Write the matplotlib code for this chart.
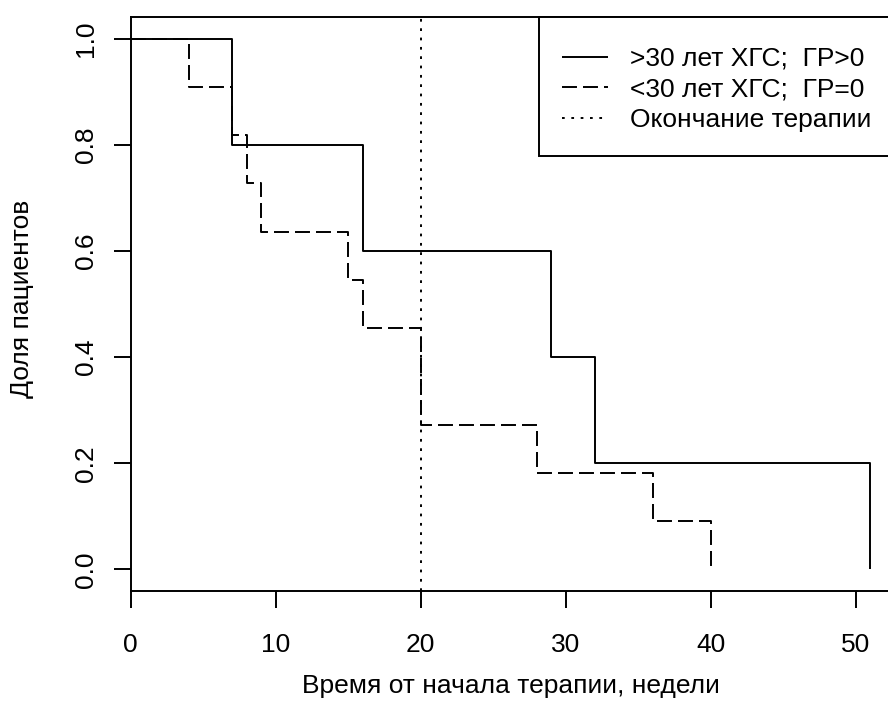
import matplotlib
matplotlib.use("Agg")
import matplotlib.pyplot as plt
from matplotlib.patches import Rectangle

# Kaplan-Meier style survival curves (weeks since start of therapy)
weeks_over30 = [0, 7, 16, 29, 32, 51]
surv_over30 = [1.0, 0.8, 0.6, 0.4, 0.2, 0.0]

weeks_under30 = [0, 4, 7, 8, 9, 15, 16, 20, 28, 36, 40]
surv_under30 = [1.0, 0.909, 0.818, 0.727, 0.636, 0.545, 0.455, 0.273, 0.182, 0.091, 0.0]

therapy_end = 20

labels = [">30 лет ХГС;  ГР>0", "<30 лет ХГС;  ГР=0", "Окончание терапии"]
x_ticks = [0, 10, 20, 30, 40, 50]
y_ticks = [0.0, 0.2, 0.4, 0.6, 0.8, 1.0]

plt.rcParams["font.family"] = ["Liberation Sans", "DejaVu Sans"]
FS = 19
LW = 1.4

W, H = 888, 726
fig = plt.figure(figsize=(W / 100, H / 100), dpi=100)
left_px, right_px, top_px, bottom_px = 130.7, 899.8, 17.3, 590.7
ax_w, ax_h = right_px - left_px, bottom_px - top_px
ax = fig.add_axes([left_px / W, 1 - bottom_px / H, ax_w / W, ax_h / H])

ax.step(weeks_over30, surv_over30, where="post", color="black", lw=LW,
        solid_capstyle="butt", label=labels[0])
ax.step(weeks_under30, surv_under30, where="post", color="black", lw=LW,
        dashes=(7.7, 3.1), label=labels[1])
ax.axvline(therapy_end, color="black", lw=LW, dashes=(1.4, 3.4), label=labels[2])

ax.set_xlim(0, 53.04)
ax.set_ylim(-0.04, 1.04)
ax.set_xticks(x_ticks)
ax.set_xticklabels([str(v) for v in x_ticks])
ax.set_yticks(y_ticks)
ax.set_yticklabels([f"{v:.1f}" for v in y_ticks], rotation=90, va="center")

for s in ax.spines.values():
    s.set_linewidth(LW)
ax.tick_params(axis="both", direction="out", length=12, width=LW,
               labelsize=FS, colors="black")
ax.tick_params(axis="x", pad=18.2)
ax.tick_params(axis="y", pad=11.6)

fig.text(22.5 / W, 1 - 299 / H, "Доля пациентов", rotation=90,
         ha="center", va="center", fontsize=FS)
fig.text(510.5 / W, 1 - 686 / H, "Время от начала терапии, недели",
         ha="center", va="center", fontsize=FS)

# legend box anchored to the top-right corner of the plot region
box_left = (539.3 - left_px) / ax_w
box_bottom = (bottom_px - 155.7) / ax_h
ax.add_patch(Rectangle((box_left, box_bottom), 1.0 - box_left, 1.0 - box_bottom,
                       transform=ax.transAxes, facecolor="white",
                       edgecolor="black", lw=LW, zorder=4, clip_on=False))
leg = ax.legend(loc="upper left",
                bbox_to_anchor=((561.7 - left_px) / ax_w, (bottom_px - 46.9) / ax_h),
                borderaxespad=0, borderpad=0, frameon=False, fontsize=FS,
                handlelength=1.77, handletextpad=0.82, labelspacing=0.246)
leg.set_zorder(5)

fig.savefig("out.png", dpi=100)
